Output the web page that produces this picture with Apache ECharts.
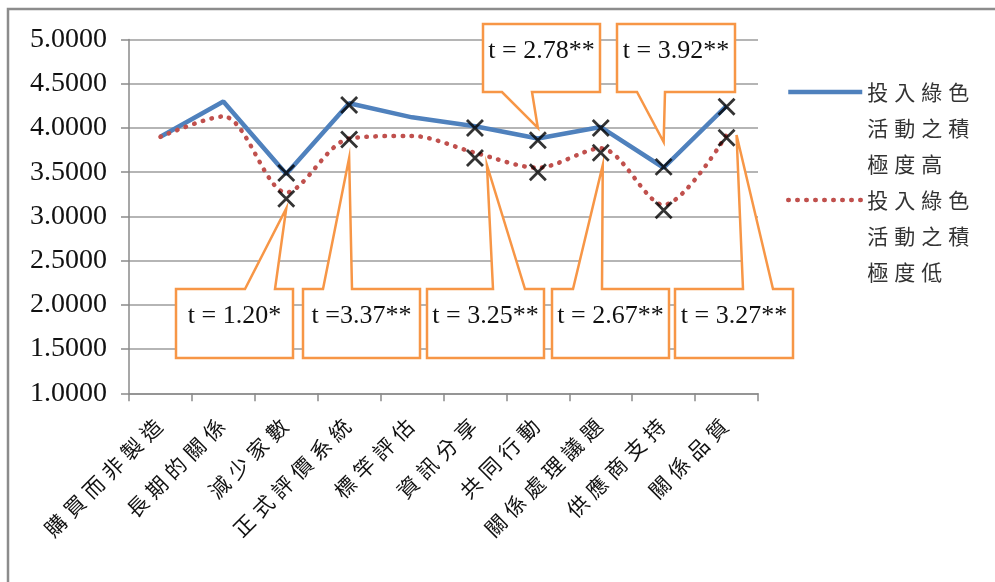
<!DOCTYPE html>
<html><head><meta charset="utf-8">
<script src="https://cdn.jsdelivr.net/npm/echarts@6/dist/echarts.min.js"></script>
<style>html,body{margin:0;padding:0;background:#fff}#c{width:995px;height:582px}</style>
</head><body><div id="c"></div>
<script>
// ---- data ----
const categories = ['購買而非製造','長期的關係','減少家數','正式評價系統','標竿評估','資訊分享','共同行動','關係處理議題','供應商支持','關係品質'];
const seriesNames = ['投入綠色活動之積極度高','投入綠色活動之積極度低'];
const highValues = [3.90, 4.30, 3.48, 4.28, 4.12, 4.02, 3.88, 4.01, 3.55, 4.25];
const lowValues  = [3.90, 4.13, 3.27, 3.88, 3.91, 3.72, 3.55, 3.77, 3.13, 3.92];
const highMarkers = [null, null, 3.49, 4.26, null, 4.00, 3.86, 4.00, 3.56, 4.24];
const lowMarkers  = [null, null, 3.20, 3.87, null, 3.66, 3.50, 3.72, 3.07, 3.89];
const tLabels = ['t = 1.20*', 't =3.37**', 't = 3.25**', 't = 2.67**', 't = 3.27**', 't = 2.78**', 't = 3.92**'];
const tTargetCat = [2, 3, 5, 7, 9, 6, 8];
const tTargetVal = [3.09, 3.66, 3.58, 3.58, 3.92, 4.00, 3.84];
const yMin = 1, yMax = 5, yStep = 0.5;

// ---- layout of the callout boxes (pixels) ----
const calloutLayout = [
  {box:[176,289,293,358], base:[245,275], dx:0},
  {box:[303,289,420,358], base:[323,352], dx:0},
  {box:[427,289,544,358], base:[493,525], dx:12},
  {box:[552,289,669,358], base:[573,602], dx:2},
  {box:[675,289,793,358], base:[743,773], dx:10},
  {box:[483,24,600,92], base:[502,532], dx:0},
  {box:[617,24,735,92], base:[637,665], dx:0}
];

const BLUE = '#4F81BD', RED = '#C0504D', ORANGE = '#F79646';
const CJK = '"Noto Sans CJK TC","Noto Sans CJK SC",sans-serif';
const SERIF = '"Liberation Serif","DejaVu Serif",serif';

function spaced(str){ return str.split('').map(ch => '{c|' + ch + '}').join(''); }
function legendText(name){
  const lines = [];
  for (let i = 0; i < name.length; i += 4) lines.push(spaced(name.slice(i, i + 4)));
  return '\n\n' + lines.join('\n');
}

const chart = echarts.init(document.getElementById('c'));
const xMark = 'path://M0,0L20,20M20,0L0,20';
const redDash = [0.5, 8.5];

chart.setOption({
  animation: false,
  backgroundColor: '#fff',
  grid: {left: 129, right: 237, top: 39.5, bottom: 188.7},
  legend: {
    orient: 'vertical', left: 786, top: 2, padding: 0,
    itemWidth: 74, itemHeight: 14, itemGap: -72,
    data: [
      {name: seriesNames[0], itemStyle: {opacity: 0}, lineStyle: {color: BLUE, width: 4.5}},
      {name: seriesNames[1], itemStyle: {opacity: 0}, lineStyle: {color: RED, width: 4.5, type: redDash, cap: 'round'}}
    ],
    formatter: legendText,
    textStyle: {color: '#333', lineHeight: 36, fontSize: 21, fontFamily: CJK,
      rich: {c: {width: 27, fontSize: 21, lineHeight: 36, fontFamily: CJK, color: '#333'}}}
  },
  xAxis: {
    type: 'category', data: categories, boundaryGap: true,
    axisLine: {lineStyle: {color: '#8a8a8a', width: 1.5}},
    axisTick: {show: true, length: 8, alignWithLabel: false, lineStyle: {color: '#8a8a8a', width: 1.5}},
    axisLabel: {rotate: 45, margin: 27, interval: 0, color: '#111',
      formatter: v => spaced(v),
      rich: {c: {width: 27, fontSize: 21, fontFamily: CJK, color: '#111', align: 'center'}}}
  },
  yAxis: {
    type: 'value', min: yMin, max: yMax, interval: yStep,
    axisLine: {show: true, lineStyle: {color: '#8a8a8a', width: 1.5}},
    axisTick: {show: true, length: 8, lineStyle: {color: '#8a8a8a', width: 1.5}},
    splitLine: {lineStyle: {color: '#9c9c9c', width: 1.5}},
    axisLabel: {margin: 22, color: '#111', fontSize: 28, fontFamily: SERIF,
      formatter: v => v.toFixed(4)}
  },
  series: [
    {name: seriesNames[0], type: 'line', data: highValues, symbol: 'none', smooth: false,
     z: 3, lineStyle: {color: BLUE, width: 4.5}, itemStyle: {color: BLUE}},
    {name: seriesNames[1], type: 'line', data: lowValues, symbol: 'none', smooth: 0.3,
     z: 3, lineStyle: {color: RED, width: 4.5, type: redDash, cap: 'round'}, itemStyle: {color: RED}},
    {name: 'mk-high', type: 'scatter', data: highMarkers, symbol: xMark, symbolSize: 16, z: 20,
     itemStyle: {color: 'none', borderColor: '#000', borderWidth: 2.8}, silent: true},
    {name: 'mk-low', type: 'scatter', data: lowMarkers, symbol: xMark, symbolSize: 16, z: 20,
     itemStyle: {color: 'none', borderColor: '#000', borderWidth: 2.8}, silent: true}
  ]
});

// ---- callouts ----
const elements = [{
  type: 'rect', shape: {x: 8, y: 9, width: 1100, height: 700}, z: -1,
  style: {fill: 'none', stroke: '#8c8c8c', lineWidth: 2.5}
}];
calloutLayout.forEach((c, i) => {
  const p = chart.convertToPixel({gridIndex: 0}, [tTargetCat[i], tTargetVal[i]]);
  const tip = [p[0] + c.dx, p[1]];
  const [x0, y0, x1, y1] = c.box;
  const [b1, b2] = c.base;
  let pts;
  if (tip[1] < y0) {
    pts = [[x0,y0],[b1,y0],tip,[b2,y0],[x1,y0],[x1,y1],[x0,y1]];
  } else {
    pts = [[x0,y0],[x1,y0],[x1,y1],[b2,y1],tip,[b1,y1],[x0,y1]];
  }
  elements.push({type: 'polygon', shape: {points: pts}, z: 10,
    style: {fill: '#fff', stroke: ORANGE, lineWidth: 2.5}});
  elements.push({type: 'text', x: (x0 + x1) / 2, y: y0 + 27, z: 11,
    style: {text: tLabels[i], fill: '#111', font: '26px ' + SERIF, textAlign: 'center', textVerticalAlign: 'middle'}});
});
chart.setOption({graphic: {elements: elements}});
</script>
</body></html>
